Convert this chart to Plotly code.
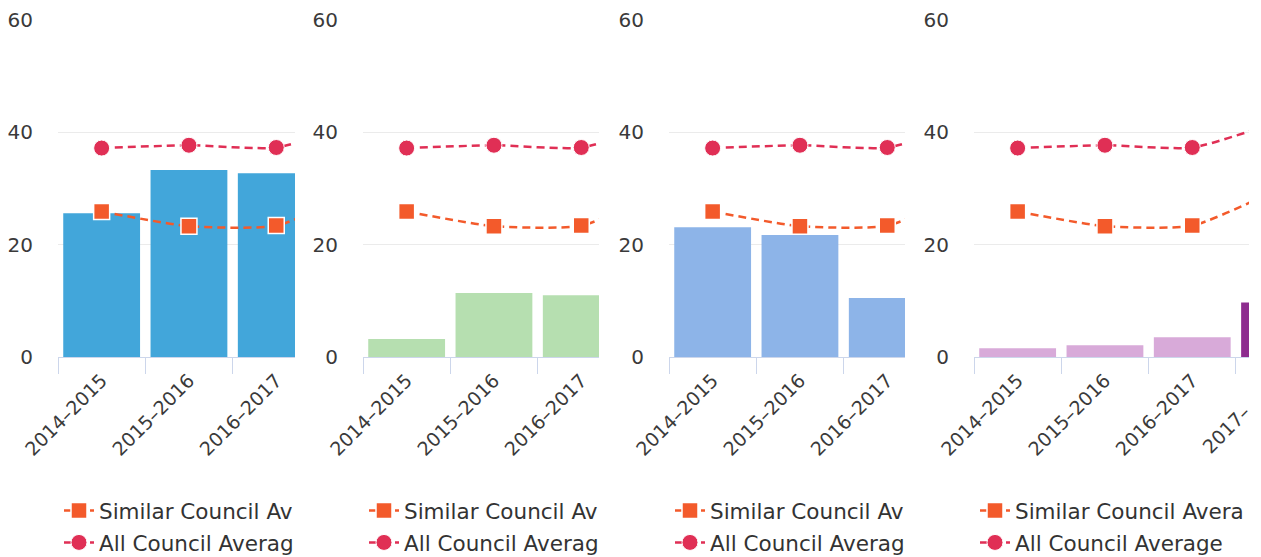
import plotly.graph_objects as go

# ---------------- data ----------------
categories = ["2014–2015", "2015–2016", "2016–2017", "2017–2018"]
similar_avg = [25.9, 23.3, 23.4, 30.0]
all_avg = [37.2, 37.7, 37.3, 42.0]

panel1_values = [25.6, 33.3, 32.7]
panel2_values = [3.2, 11.4, 11.0]
panel3_values = [23.1, 21.7, 10.5]
panel4_values = [1.55, 2.1, 3.5, 9.7]

series_names = ["Similar Council Average", "All Council Average"]
# legend labels as visible (clipped) in each panel
legend_labels = [
    ["Similar Council Av", "All Council Averag"],
    ["Similar Council Av", "All Council Averag"],
    ["Similar Council Av", "All Council Averag"],
    ["Similar Council Avera", "All Council Average"],
]
partial_last_label = "2017–"
y_ticks = [0, 20, 40, 60]

# ---------------- styling / layout ----------------
OFF = 8                      # page body margin
W, H = 1261 - OFF, 557 - OFF
FONT = "DejaVu Sans"
# screen-pixel geometry of the four panels
panel_left = [58, 363, 669, 974]
panel_right = [295, 599, 905, 1249]
legend_text_x = [99, 404, 710, 1015]
cat_px = 87.3
plot_top, plot_bottom = 20, 357
legend_top = 490

bar_colors = [
    ["#42a6da"] * 3,
    ["#b6dfb0"] * 3,
    ["#8db4e8"] * 3,
    ["#d8aad9", "#d8aad9", "#d8aad9", "#8d2c8e"],
]
panel_values = [panel1_values, panel2_values, panel3_values, panel4_values]

SIM_COLOR = "#f35a2b"
ALL_COLOR = "#e02f55"


def px_x(p):
    return (p - OFF) / W


def px_y(p):
    return 1 - (p - OFF) / H


fig = go.Figure()
layout = dict(
    width=W, height=H,
    margin=dict(l=0, r=0, t=0, b=0, autoexpand=False),
    paper_bgcolor="white", plot_bgcolor="white",
    font=dict(family=FONT, color="#333333"),
    bargap=0.12,
)

for i in range(4):
    sfx = "" if i == 0 else str(i + 1)
    xref, yref = "x" + sfx, "y" + sfx
    leg = "legend" + sfx
    vals = panel_values[i]
    fig.add_trace(go.Bar(
        x=categories[:len(vals)], y=vals, xaxis=xref, yaxis=yref,
        marker=dict(color=bar_colors[i], line=dict(width=0)),
        width=0.88, showlegend=False, hoverinfo="skip",
    ))
    fig.add_trace(go.Scatter(
        x=categories, y=similar_avg, xaxis=xref, yaxis=yref,
        mode="lines+markers", name=legend_labels[i][0], legend=leg,
        legendgroup=f"s{i}",
        line=dict(color=SIM_COLOR, width=2.5, dash="8px,5px",
                  shape="spline", smoothing=0.6),
        marker=dict(symbol="square", size=16, color=SIM_COLOR,
                    line=dict(color="white", width=1.5)),
    ))
    fig.add_trace(go.Scatter(
        x=categories, y=all_avg, xaxis=xref, yaxis=yref,
        mode="lines+markers", name=legend_labels[i][1], legend=leg,
        legendgroup=f"a{i}",
        line=dict(color=ALL_COLOR, width=2.5, dash="8px,5px",
                  shape="spline", smoothing=0.6),
        marker=dict(symbol="circle", size=16, color=ALL_COLOR,
                    line=dict(color="white", width=1)),
    ))

    L, R = panel_left[i], panel_right[i]
    layout["xaxis" + sfx] = dict(
        domain=[px_x(L), min(1, px_x(R))],
        range=[-0.5, -0.5 + (R - L) / cat_px],
        type="category", categoryorder="array", categoryarray=categories,
        tickangle=-45, tickson="boundaries", ticks="outside", ticklen=16,
        tickcolor="#ccd6eb", showline=True, linecolor="#ccd6eb",
        showgrid=False, zeroline=False, anchor=yref, ticklabelstandoff=4,
        tickfont=dict(size=19, color="#3a3a3a", family=FONT),
    )
    layout["yaxis" + sfx] = dict(
        domain=[px_y(plot_bottom), px_y(plot_top)],
        range=[0, 60], tickvals=y_ticks, showgrid=True, gridcolor="#ebebeb",
        zeroline=False, showline=False, ticks="", ticklabelstandoff=24,
        anchor=xref, tickfont=dict(size=20, color="#3a3a3a", family=FONT),
    )
    layout[leg] = dict(
        x=px_x(legend_text_x[i] - 40), y=px_y(legend_top),
        xanchor="left", yanchor="top",
        orientation="v", bgcolor="rgba(0,0,0,0)", itemwidth=30,
        tracegroupgap=1, font=dict(size=21.5, color="#333333", family=FONT),
    )

# partially visible label of the last category in the last panel
last_label_start = panel_left[3] + cat_px * 2.5 + 16
layout["annotations"] = [dict(
    xref="paper", yref="paper", text=partial_last_label, showarrow=False,
    x=px_x(last_label_start - 13), y=px_y(plot_bottom + 103),
    xanchor="left", yanchor="bottom", textangle=-45,
    font=dict(size=19, color="#3a3a3a", family=FONT),
)]

fig.update_layout(**layout)
fig.write_html("out.html")
